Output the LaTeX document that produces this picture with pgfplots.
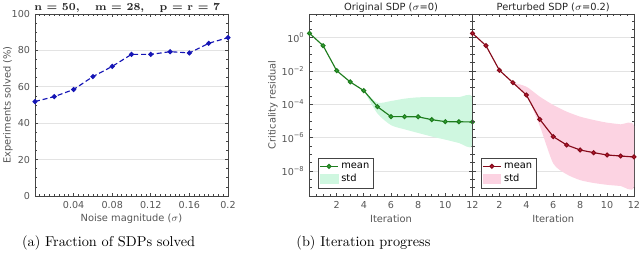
\documentclass[border=0pt]{standalone}
\usepackage{fontspec}
\usepackage{pgfplots}
\pgfplotsset{compat=1.18}
\newfontfamily\djv{DejaVu Sans}
\definecolor{txt}{HTML}{555555}
\definecolor{axc}{HTML}{444444}
\definecolor{gridc}{HTML}{E3E3E3}
\definecolor{bluel}{HTML}{1515B5}
\definecolor{gline}{HTML}{1E7D1E}
\definecolor{gmark}{HTML}{3AAA3A}
\definecolor{gfill}{HTML}{CFF7E0}
\definecolor{rline}{HTML}{850A1A}
\definecolor{rmark}{HTML}{C41A35}
\definecolor{rfill}{HTML}{FCD3E2}
\pgfplotsset{common/.style={
  scale only axis, height=127.4pt,
  axis line style={axc, line width=0.6pt},
  every tick/.style={axc, line width=0.5pt},
  major tick length=2.4pt, minor tick length=1.4pt,
  tick align=inside,
  ticklabel style={font=\djv\fontsize{6.7}{8}\selectfont, text=txt},
  label style={font=\djv\fontsize{6.9}{8}\selectfont, text=txt},
  every axis title shift=0pt,
  title style={font=\djv\fontsize{6.9}{8}\selectfont, text=black!85, at={(0.5,1)}, anchor=base, yshift=2.6pt},
  ymajorgrids, grid style={gridc, line width=0.5pt},
  /pgf/number format/assume math mode=true,
  legend style={font=\djv\fontsize{6.9}{8}\selectfont, draw=axc, line width=0.5pt, inner sep=1pt, row sep=-1pt},
  legend cell align=left,
  xlabel style={at={(rel axis cs:0.5,-0.126)}, anchor=center},
}}
\begin{document}
\begin{tikzpicture}
\path[use as bounding box] (0,0) rectangle (448pt,183.4pt);
% Panel a
\begin{axis}[common, at={(24.5pt,46.2pt)}, anchor=south west, width=135.1pt,
  xmin=0, xmax=0.2, ymin=0, ymax=100,
  xtick={0.04,0.08,0.12,0.16,0.2}, xticklabels={0.04,0.08,0.12,0.16,0.2},
  minor xtick={0,0.005,...,0.2},
  ytick={0,20,40,60,80,100}, minor ytick={0,5,...,100},
  xlabel={Noise magnitude ($\sigma$)}, ylabel={Experiments solved (\%)},
  ylabel style={at={(rel axis cs:-0.14,0.5)}, anchor=center},
  title={\fontspec{Latin Modern Roman}\bfseries\fontsize{7.5}{9}\selectfont n = 50,\quad\  m = 28,\quad\  p = r = 7},
  title style={xshift=-3pt},
  clip mode=individual]
\addplot[bluel, line width=0.8pt, dash pattern=on 3.5pt off 2pt, mark=*, mark size=1.35pt, mark options={solid, fill=bluel}]
coordinates {(0,51.9) (0.02,54.6) (0.04,58.5) (0.06,65.6) (0.08,71.2) (0.10,77.8) (0.12,77.8) (0.14,79.3) (0.16,78.6) (0.18,83.9) (0.20,87.0)};
\end{axis}
% Panel b left
\begin{axis}[common, at={(216.65pt,46.2pt)}, anchor=south west, width=114.1pt,
  ymode=log, xmin=0, xmax=12, ymin=3.16e-10, ymax=26.3,
  xtick={2,4,...,12}, minor xtick={0,0.5,...,12},
  ytick={1e-8,1e-6,1e-4,1e-2,1},
  yticklabels={10\textsuperscript{−8},10\textsuperscript{−6},10\textsuperscript{−4},10\textsuperscript{−2},10\textsuperscript{0}},
  minor ytick={1e-9,3.16e-9,3.16e-8,1e-7,3.16e-7,3.16e-6,1e-5,3.16e-5,3.16e-4,1e-3,3.16e-3,3.16e-2,1e-1,3.16e-1,3.16,10},
  title={Original SDP ($\sigma$=0)}, xlabel={Iteration}, ylabel={Criticality residual},
  ylabel style={at={(rel axis cs:-0.224,0.5)}, anchor=center},
  legend style={at={(0.05,0.04)}, anchor=south west},
  clip mode=individual]
\addplot[fill=gfill, draw=none, forget plot, smooth, tension=0.4] coordinates {(4,6.61e-4) (5,1.25e-4) (6,1.58e-4) (7,2.19e-4) (8,2.63e-4) (9,2.69e-4) (10,2.69e-4) (11,2.69e-4) (12,2.69e-4)
  (12,3.31e-7) (11,4.79e-7) (10,7.59e-7) (9,1.17e-6) (8,1.91e-6) (7,3.16e-6) (6,5.62e-6) (5,2.82e-5) (4,6.61e-4)} -- cycle;
\addplot[gline, line width=0.8pt, mark=*, mark size=1.35pt, mark options={fill=gmark},
  legend image code/.code={\draw[mark repeat=2,mark phase=2] plot coordinates {(0cm,0cm) (0.22cm,0cm) (0.44cm,0cm)};}]
coordinates {(0,1.82) (1,0.331) (2,0.0105) (3,2.19e-3) (4,6.61e-4) (5,7.24e-5) (6,1.82e-5) (7,1.82e-5) (8,1.78e-5) (9,1.20e-5) (10,9.12e-6) (11,9.0e-6) (12,8.71e-6)};
\addlegendentry{mean}
\addlegendimage{legend image code/.code={\fill[gfill] (0cm,-0.11cm) rectangle (0.44cm,0.11cm);}}
\addlegendentry{std}
\end{axis}
% Panel b right
\begin{axis}[common, at={(330.75pt,46.2pt)}, anchor=south west, width=113.05pt,
  ymode=log, xmin=0, xmax=12, ymin=3.16e-10, ymax=26.3,
  xtick={2,4,...,12}, minor xtick={0,0.5,...,12},
  ytick={1e-8,1e-6,1e-4,1e-2,1}, yticklabels=\empty,
  minor ytick={1e-9,3.16e-9,3.16e-8,1e-7,3.16e-7,3.16e-6,1e-5,3.16e-5,3.16e-4,1e-3,3.16e-3,3.16e-2,1e-1,3.16e-1,3.16,10},
  title={Perturbed SDP ($\sigma$=0.2)}, xlabel={Iteration},
  legend style={at={(0.05,0.04)}, anchor=south west},
  clip mode=individual]
\addplot[fill=rfill, draw=none, forget plot, smooth, tension=0.4] coordinates {(3,2.0e-3) (4,1.15e-3) (5,2.88e-4) (6,9.12e-5) (7,3.63e-5) (8,1.82e-5) (9,1.15e-5) (10,7.94e-6) (11,6.31e-6) (12,5.01e-6)
  (12,1.10e-9) (11,1.26e-9) (10,1.48e-9) (9,1.91e-9) (8,2.82e-9) (7,6.31e-9) (6,2.82e-8) (5,5.01e-6) (4,3.63e-4) (3,2.0e-3)} -- cycle;
\addplot[rline, line width=0.8pt, mark=*, mark size=1.35pt, mark options={fill=rmark},
  legend image code/.code={\draw[mark repeat=2,mark phase=2] plot coordinates {(0cm,0cm) (0.22cm,0cm) (0.44cm,0cm)};}]
coordinates {(0,1.82) (1,0.331) (2,0.011) (3,2.0e-3) (4,3.63e-4) (5,1.26e-5) (6,1.15e-6) (7,3.63e-7) (8,1.82e-7) (9,1.26e-7) (10,9.12e-8) (11,7.94e-8) (12,6.92e-8)};
\addlegendentry{mean}
\addlegendimage{legend image code/.code={\fill[rfill] (0cm,-0.11cm) rectangle (0.44cm,0.11cm);}}
\addlegendentry{std}
\end{axis}
% Captions
\node[font=\fontsize{10}{12}\selectfont] at (76pt,13.3pt) {(a) Fraction of SDPs solved};
\node[font=\fontsize{10}{12}\selectfont] at (254.45pt,13.3pt) {(b) Iteration progress};
\end{tikzpicture}
\end{document}
